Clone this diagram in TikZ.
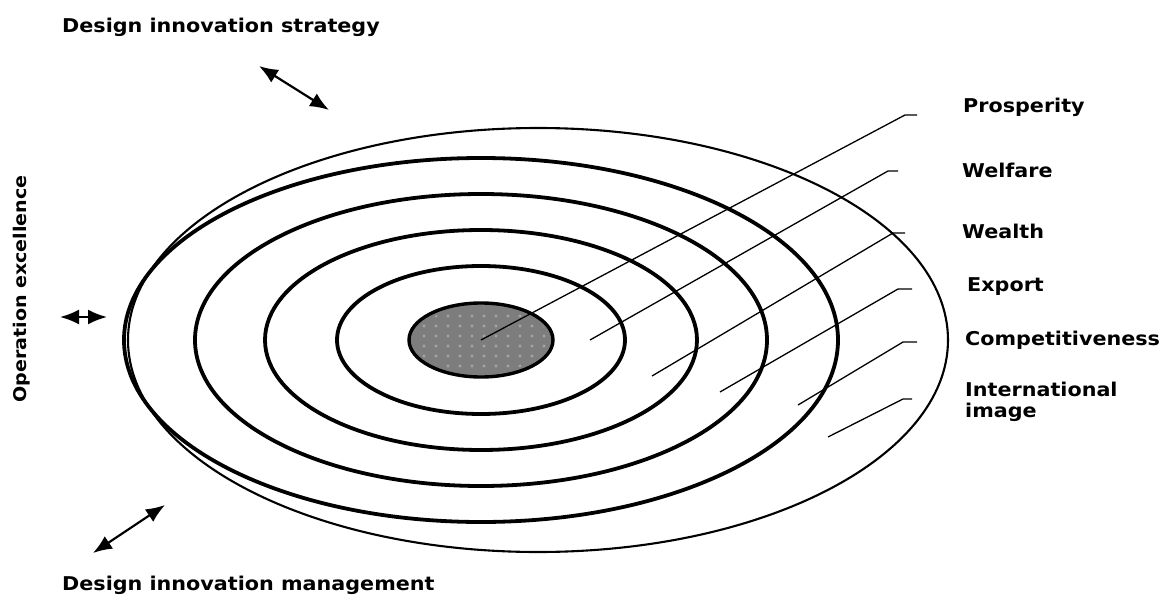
\documentclass[tikz,border=0pt]{standalone}
\usepackage{fontspec}
\setmainfont{DejaVu Sans}[FakeStretch=1.09]
\usetikzlibrary{arrows.meta}
\definecolor{coregray}{RGB}{125,125,125}
\definecolor{dotgray}{RGB}{165,165,165}
\begin{document}
\begin{tikzpicture}[x=1pt,y=-1pt,
  ring/.style={line width=3.8pt},
  outerring/.style={line width=2.1pt},
  lead/.style={line width=1.3pt},
  lbl/.style={font=\bfseries\fontsize{19}{23}\selectfont, anchor=west, inner sep=0pt, align=left},
  dbl/.style={line width=2.2pt, {Latex[length=19pt,width=15pt]}-{Latex[length=19pt,width=15pt]}}
]
\useasboundingbox (0,0) rectangle (1168,597);
% centres
\coordinate (c) at (481,340);
\coordinate (co) at (538,340);
% outer thin ellipse
\draw[outerring] (co) ellipse [x radius=410pt, y radius=212pt];
% rings
\draw[ring] (c) ellipse [x radius=357pt, y radius=182pt];
\draw[ring] (c) ellipse [x radius=286pt, y radius=146pt];
\draw[ring] (c) ellipse [x radius=216pt, y radius=110pt];
\draw[ring] (c) ellipse [x radius=144pt, y radius=74pt];
% core
\fill[coregray] (c) ellipse [x radius=72pt, y radius=37pt];
\begin{scope}
  \clip (c) ellipse [x radius=68pt, y radius=33pt];
  \foreach \i in {0,...,12}{
    \foreach \j in {0,...,7}{
      \fill[dotgray] (412+\i*12,306+\j*10) circle [radius=1.6pt];
    }
  }
\end{scope}
\draw[line width=3.4pt] (c) ellipse [x radius=72pt, y radius=37pt];
% leader lines
\coordinate (a1) at (481,340); \coordinate (b1) at (905,115); \coordinate (e1) at (917,115);
\coordinate (a2) at (590,340); \coordinate (b2) at (888,171); \coordinate (e2) at (898,171);
\coordinate (a3) at (652,376); \coordinate (b3) at (893,233); \coordinate (e3) at (905,233);
\coordinate (a4) at (720,392); \coordinate (b4) at (898,289); \coordinate (e4) at (912,289);
\coordinate (a5) at (798,405); \coordinate (b5) at (903,342); \coordinate (e5) at (917,342);
\coordinate (a6) at (828,437); \coordinate (b6) at (903,399); \coordinate (e6) at (912,399);
\foreach \k in {1,...,6}{ \draw[lead] (a\k) -- (b\k) -- (e\k); }
% labels
\node[lbl] (prosp) at (963,107) {Prosperity};
\node[lbl] (welf) at (962,170) {Welfare};
\node[lbl] (wealth) at (962,231) {Wealth};
\node[lbl] (export) at (967,287) {Export};
\node[lbl] (comp) at (965,340) {Competitiveness};
\node[lbl] (intl) at (965,402) {International\\[-2pt]image};
\node[lbl] (strat) at (62,27) {Design innovation strategy};
\node[lbl] (mgmt) at (62,585) {Design innovation management};
\node[lbl, font=\bfseries\fontsize{17.5}{21}\selectfont, anchor=center, rotate=90] (oper) at (22,289) {Operation excellence};
% arrows
\coordinate (s1) at (259,66); \coordinate (s2) at (329,110);
\coordinate (o1) at (60,317); \coordinate (o2) at (107,317);
\coordinate (m1) at (93,553); \coordinate (m2) at (165,505);
\draw[dbl] (s1) -- (s2);
\draw[dbl] (o1) -- (o2);
\draw[dbl] (m1) -- (m2);
\end{tikzpicture}
\end{document}
